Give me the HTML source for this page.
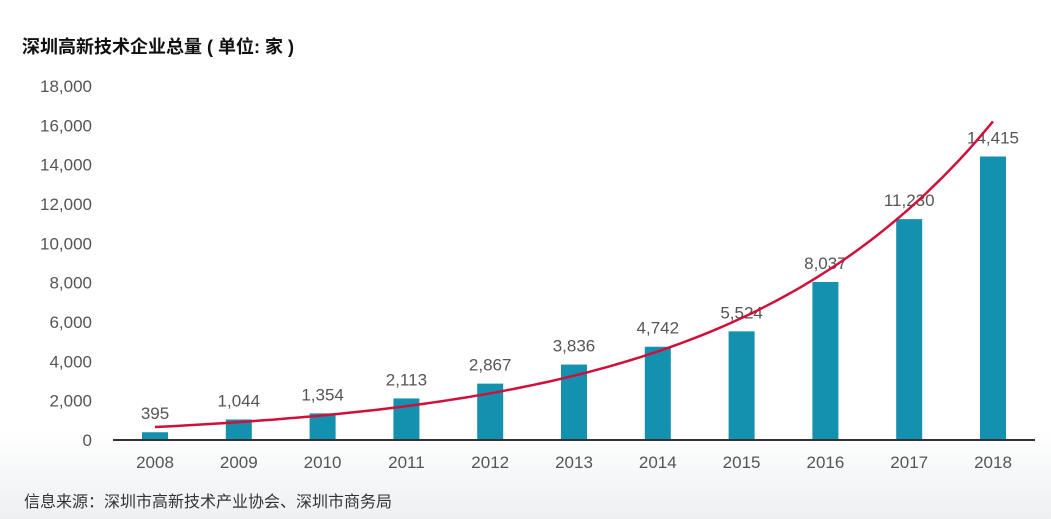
<!DOCTYPE html>
<html><head><meta charset="utf-8"><style>
body{margin:0;width:1051px;height:519px;overflow:hidden;background:linear-gradient(#fff 0,#fff 430px,#eef0f2 519px);font-family:"Liberation Sans","Noto Sans CJK SC",sans-serif;}
</style></head><body>
<svg width="1051" height="519" style="position:absolute;left:0;top:0">
<text x="22" y="53" font-size="18" font-weight="bold" fill="#111" font-family="Liberation Sans, Noto Sans CJK SC, sans-serif">深圳高新技术企业总量 ( 单位: 家 )</text>
<g id="yaxis"></g><g id="bars"></g><g id="xaxis"></g><g id="labels"></g><g id="trend"></g>
<line x1="113" y1="440" x2="1035" y2="440" stroke="#333" stroke-width="2"/>
<text x="24" y="507" font-size="16" fill="#333" font-family="Liberation Sans, Noto Sans CJK SC, sans-serif">信息来源：深圳市高新技术产业协会、深圳市商务局</text>
</svg>
<script>
const categories=["2008","2009","2010","2011","2012","2013","2014","2015","2016","2017","2018"];
const values=[395,1044,1354,2113,2867,3836,4742,5524,8037,11230,14415];
const valueLabels=["395","1,044","1,354","2,113","2,867","3,836","4,742","5,524","8,037","11,230","14,415"];
const yTicks=[0,2000,4000,6000,8000,10000,12000,14000,16000,18000];
const yTickLabels=["0","2,000","4,000","6,000","8,000","10,000","12,000","14,000","16,000","18,000"];
const trendStart=[660];const trendEnd=[16200];
const NS="http://www.w3.org/2000/svg";
const y=v=>440-v*354/18000;
const x=i=>155+i*83.8;
function mk(t,a,p){const e=document.createElementNS(NS,t);for(const k in a)e.setAttribute(k,a[k]);document.getElementById(p).appendChild(e);return e;}
yTicks.forEach((v,i)=>{const t=mk("text",{x:92,y:y(v)+6,"text-anchor":"end","font-size":17,fill:"#555"},"yaxis");t.textContent=yTickLabels[i];

});
categories.forEach((c,i)=>{
const b=mk("rect",{x:x(i)-13,y:y(values[i]),width:26,height:440-y(values[i]),fill:"#1491ae"},"bars");


const t=mk("text",{x:x(i),y:468,"text-anchor":"middle","font-size":17,fill:"#555"},"xaxis");t.textContent=c;


const l=mk("text",{x:x(i),y:y(values[i])-13,"text-anchor":"middle","font-size":17,fill:"#555"},"labels");l.textContent=valueLabels[i];


});
const r=Math.pow(trendEnd[0]/trendStart[0],1/(categories.length-1));
let d="";for(let s=0;s<=100;s++){const i=s/100*(categories.length-1);const v=trendStart[0]*Math.pow(r,i);d+=(s?"L":"M")+x(i).toFixed(1)+","+y(v).toFixed(1);}
const p=mk("path",{d:d,fill:"none",stroke:"#d0103a","stroke-width":2.5},"trend");


</script>
</body></html>
